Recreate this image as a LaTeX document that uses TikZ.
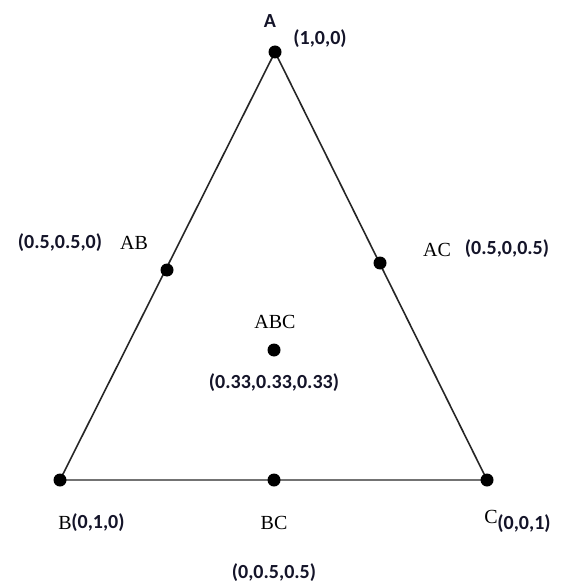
\documentclass[tikz,border=0pt]{standalone}
\usepackage{fontspec}
\setmainfont{Liberation Serif}
\newfontfamily\coordfont{Carlito}
\definecolor{coordcol}{rgb}{0.08,0.08,0.16}
\begin{document}
\begin{tikzpicture}[x=1pt,y=-1pt,
  dot/.style={circle,fill=black,inner sep=0pt,minimum width=12pt,minimum height=13pt},
  edge/.style={line width=1.6pt,black!85},
  baseedge/.style={line width=2.2pt,black!55},
  lbl/.style={font=\fontsize{20}{24}\selectfont,inner sep=0pt},
  crd/.style={font=\coordfont\bfseries\fontsize{20}{24}\selectfont,text=coordcol,inner sep=0pt}]
\useasboundingbox[fill=white] (0,0) rectangle (564,585);
\coordinate (a) at (275,52);
\coordinate (b) at (60,480);
\coordinate (c) at (487,480);
\draw[edge] (a) -- (b);
\draw[edge] (a) -- (c);
\draw[baseedge] (b) -- (c);
\node[dot] (A) at (a) {};
\node[dot] (B) at (b) {};
\node[dot] (C) at (c) {};
\node[dot] (AB) at (167,270) {};
\node[dot] (AC) at (380,263) {};
\node[dot] (ABC) at (274,350) {};
\node[dot] (BC) at (274,480) {};
% labels
\node[crd] (lA) at (270,21) {A};
\node[crd] (cA) at (320,39) {(1,0,0)};
\node[crd] (cAB) at (60,243) {(0.5,0.5,0)};
\node[lbl] (lAB) at (134,243) {AB};
\node[lbl] (lAC) at (437,250) {AC};
\node[crd] (cAC) at (507,249) {(0.5,0,0.5)};
\node[lbl] (lABC) at (275,322) {ABC};
\node[crd] (cABC) at (274,383) {(0.33,0.33,0.33)};
\node[lbl] (lB) at (65,523) {B};
\node[crd] (cB) at (98,523) {(0,1,0)};
\node[lbl] (lBC) at (274,523) {BC};
\node[crd] (cBC) at (274,573) {(0,0.5,0.5)};
\node[lbl] (lC) at (491,517) {C};
\node[crd] (cC) at (524,524) {(0,0,1)};
\end{tikzpicture}
\end{document}
